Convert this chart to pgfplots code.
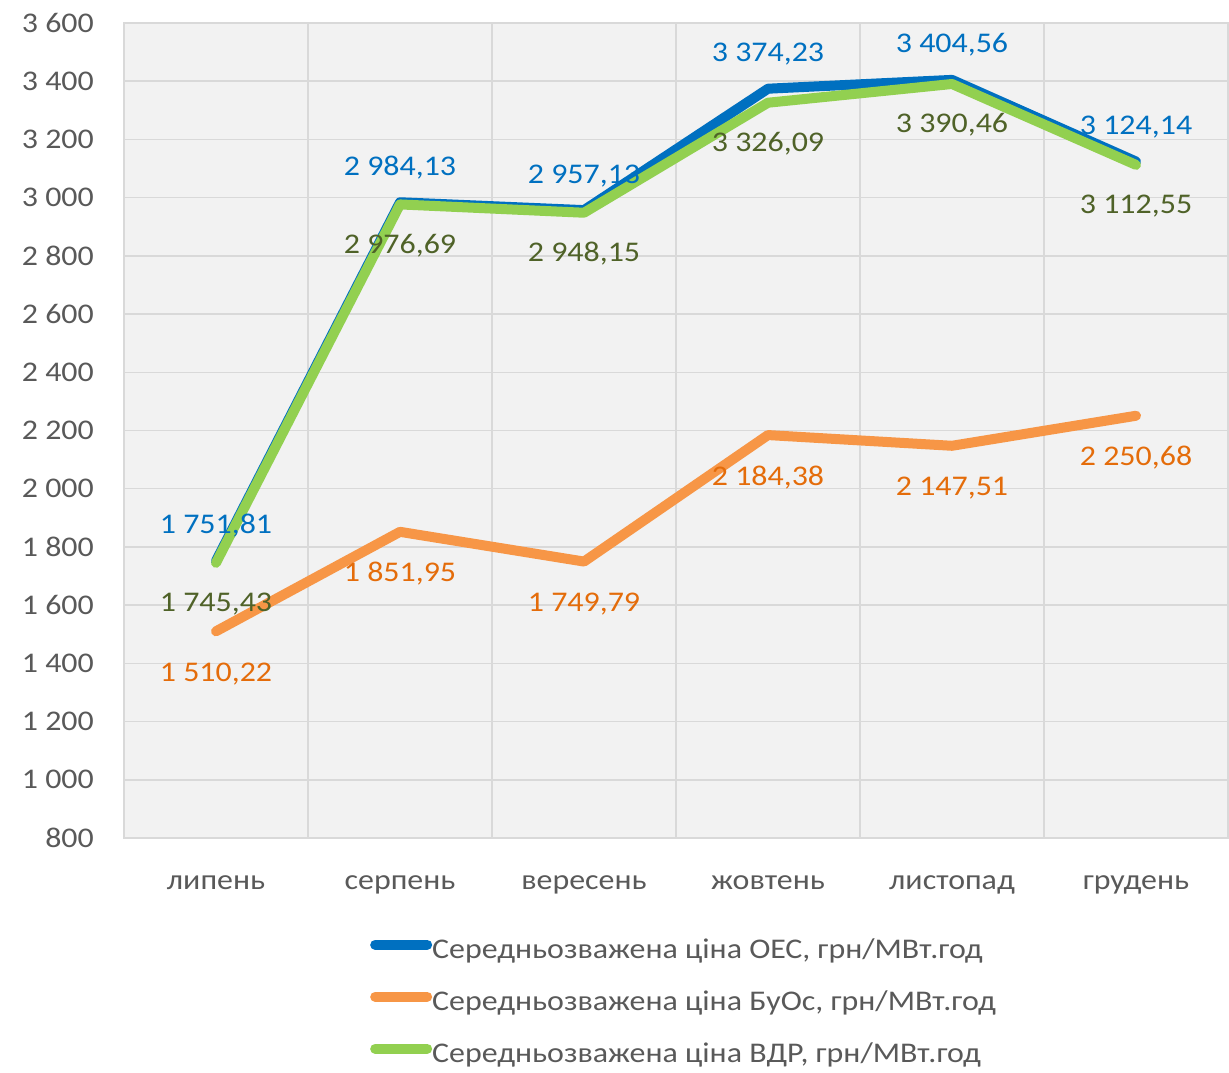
\documentclass[border=0pt]{standalone}
\usepackage{pgfplots}
\pgfplotsset{compat=1.18}
\usepackage{fontspec}
\setmainfont{Carlito}[FakeStretch=1.12]
\definecolor{oec}{HTML}{0070C0}
\definecolor{buos}{HTML}{F79646}
\definecolor{vdr}{HTML}{92D050}
\definecolor{oeclab}{HTML}{0070C0}
\definecolor{buoslab}{HTML}{E46C0A}
\definecolor{vdrlab}{HTML}{4F6228}
\definecolor{gridgray}{HTML}{D9D9D9}
\definecolor{bggray}{HTML}{F2F2F2}
\definecolor{labgray}{HTML}{595959}
\newcommand{\fs}{\fontsize{28.5}{33}\selectfont}
\begin{document}
\begin{tikzpicture}
\begin{axis}[name=ax,
  scale only axis, width=1104pt, height=815pt,
  xmin=-0.5, xmax=5.5, ymin=800, ymax=3600,
  ytick={800,1000,...,3600},
  xtick={0,...,5},
  xticklabels={липень,серпень,вересень,жовтень,листопад,грудень},
  minor xtick={-0.5,0.5,...,5.5},
  xmajorgrids=false, xminorgrids=true, ymajorgrids=true,
  grid style={draw=gridgray, line width=1.5pt},
  minor grid style={draw=gridgray, line width=1.5pt},
  axis background/.style={fill=bggray},
  axis line style={draw=gridgray, line width=1.5pt},
  major tick length=0pt, minor tick length=0pt,
  tick style={draw=none},
  tick label style={font=\fs, text=labgray, inner sep=0pt},
  /pgf/number format/.cd, assume math mode=true, 1000 sep={\ },
  /pgfplots/.cd,
  yticklabel style={anchor=east, xshift=-30pt},
  xticklabel style={anchor=base, yshift=-51pt},
  legend style={at={(0.2228,-0.1227)}, anchor=north west, draw=none, fill=none,
    inner sep=0pt, row sep=25pt, font=\fs, text=labgray,
    nodes={inner sep=0pt, text height=20pt, text depth=7pt}},
  legend cell align=left,
  legend image code/.code={\draw[#1, line width=10pt, line cap=round] (5pt,7pt) -- (57pt,7pt);},
  point meta=explicit symbolic,
  nodes near coords,
  nodes near coords style={font=\fs, anchor=base, inner sep=0pt},
]
\addplot[oec, line width=10pt, line join=round, line cap=round,
  nodes near coords style={text=oeclab, yshift=27pt}]
coordinates {(0,1751.81) [1 751,81] (1,2984.13) [2 984,13] (2,2957.13) [2 957,13]
 (3,3374.23) [3 374,23] (4,3404.56) [3 404,56] (5,3124.14) [3 124,14]};
\addlegendentry{Середньозважена ціна ОЕС, грн/МВт.год}
\addplot[buos, line width=10pt, line join=round, line cap=round,
  nodes near coords style={text=buoslab, yshift=-50pt}]
coordinates {(0,1510.22) [1 510,22] (1,1851.95) [1 851,95] (2,1749.79) [1 749,79]
 (3,2184.38) [2 184,38] (4,2147.51) [2 147,51] (5,2250.68) [2 250,68]};
\addlegendentry{Середньозважена ціна БуОс, грн/МВт.год}
\addplot[vdr, line width=10pt, line join=round, line cap=round,
  nodes near coords style={text=vdrlab, yshift=-49pt}]
coordinates {(0,1745.43) [1 745,43] (1,2976.69) [2 976,69] (2,2948.15) [2 948,15]
 (3,3326.09) [3 326,09] (4,3390.46) [3 390,46] (5,3112.55) [3 112,55]};
\addlegendentry{Середньозважена ціна ВДР, грн/МВт.год}
\end{axis}
\pgfresetboundingbox
\path ([xshift=-124pt,yshift=-234pt]ax.south west) rectangle ([xshift=1pt,yshift=23pt]ax.north east);
\end{tikzpicture}
\end{document}
